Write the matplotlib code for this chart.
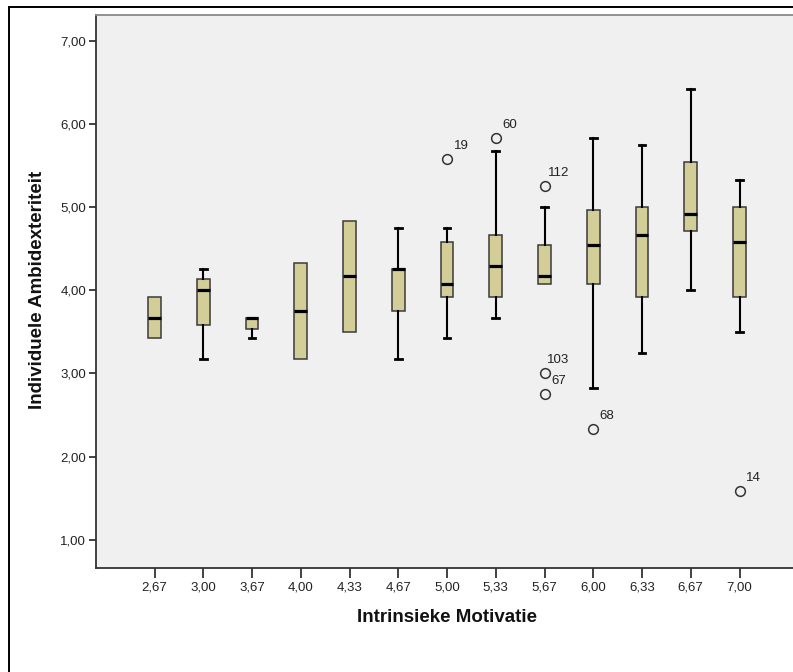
import matplotlib
matplotlib.use("Agg")
import matplotlib.pyplot as plt
from matplotlib.patches import Rectangle

plt.rcParams['font.family'] = ['Liberation Sans', 'DejaVu Sans']

# box statistics
labels = ['2,67', '3,00', '3,67', '4,00', '4,33', '4,67', '5,00',
          '5,33', '5,67', '6,00', '6,33', '6,67', '7,00']
whislo = [3.42, 3.17, 3.42, 3.17, 3.50, 3.17, 3.42, 3.67, 4.08, 2.83, 3.25, 4.00, 3.50]
q1 = [3.42, 3.58, 3.54, 3.17, 3.50, 3.75, 3.92, 3.92, 4.08, 4.08, 3.92, 4.71, 3.92]
med = [3.67, 4.00, 3.67, 3.75, 4.17, 4.25, 4.08, 4.29, 4.17, 4.54, 4.67, 4.92, 4.58]
q3 = [3.92, 4.13, 3.67, 4.33, 4.83, 4.25, 4.58, 4.67, 4.54, 4.96, 5.00, 5.54, 5.00]
whishi = [3.92, 4.25, 3.67, 4.33, 4.83, 4.75, 4.75, 5.67, 5.00, 5.83, 5.75, 6.42, 5.33]

# outliers: category label -> list of (value, case number)
outliers = {
    '5,00': [(5.58, '19')],
    '5,33': [(5.83, '60')],
    '5,67': [(5.25, '112'), (3.00, '103'), (2.75, '67')],
    '6,00': [(2.33, '68')],
    '7,00': [(1.58, '14')],
}

yticks = [1, 2, 3, 4, 5, 6, 7]
ytick_labels = ['1,00', '2,00', '3,00', '4,00', '5,00', '6,00', '7,00']

stats = []
for i, lab in enumerate(labels):
    stats.append({
        'label': lab,
        'whislo': whislo[i], 'q1': q1[i], 'med': med[i],
        'q3': q3[i], 'whishi': whishi[i],
        'fliers': [v for v, _ in outliers.get(lab, [])],
    })

W, H = 793, 672
fig = plt.figure(figsize=(W / 100, H / 100), dpi=100)
fig.patch.set_facecolor('white')

# plot area (right edge runs slightly off the picture)
ax = fig.add_axes([96 / W, 1 - 568 / H, 702 / W, 553 / H])
ax.set_facecolor('#f0f0f0')

positions = list(range(1, len(labels) + 1))
bp = ax.bxp(stats, positions=positions, widths=0.26, capwidths=0.14,
            patch_artist=True, manage_ticks=False,
            boxprops=dict(facecolor='#d3ce97', edgecolor='#3a3a3a', linewidth=1.1),
            medianprops=dict(color='black', linewidth=2.3),
            whiskerprops=dict(color='black', linewidth=1.5),
            capprops=dict(color='black', linewidth=2.0),
            flierprops=dict(marker='o', markersize=7, markerfacecolor='none',
                            markeredgecolor='#333333', markeredgewidth=1.1))

# zero-length whiskers: SPSS shows no cap, just the box edge
for i in range(len(labels)):
    if whislo[i] == q1[i]:
        bp['caps'][2 * i].set_visible(False)
    if whishi[i] == q3[i]:
        bp['caps'][2 * i + 1].set_visible(False)

for lab, pts in outliers.items():
    x = labels.index(lab) + 1
    for v, case in pts:
        ax.annotate(case, (x, v), xytext=(14, 13), textcoords='offset pixels',
                    ha='center', va='center', fontsize=9.5, color='#222222')

ax.set_xlim(-0.2, 14.2)
ax.set_ylim(0.66, 7.31)
ax.set_xticks(positions)
ax.set_xticklabels(labels)
ax.set_yticks(yticks)
ax.set_yticklabels(ytick_labels)
ax.tick_params(axis='both', labelsize=9.5, colors='#222222', width=1.3)
ax.tick_params(axis='y', length=5, pad=2, color='#333333')
ax.tick_params(axis='x', length=7, pad=3, color='#333333')

for s in ['left', 'bottom']:
    ax.spines[s].set_color('#333333')
    ax.spines[s].set_linewidth(1.3)
ax.spines['top'].set_color('#8a8a8a')
ax.spines['top'].set_linewidth(1.3)
ax.spines['right'].set_visible(False)

fig.text(38 / W, 1 - 290 / H, 'Individuele Ambidexteriteit', rotation=90,
         ha='center', va='center', fontsize=13.5, fontweight='bold', color='#111111')
fig.text(447 / W, 1 - 617 / H, 'Intrinsieke Motivatie',
         ha='center', va='center', fontsize=13.5, fontweight='bold', color='#111111')

# outer chart frame
fig.patches.append(Rectangle((9 / W, -0.1), 1.2, 1.1 - 7 / H,
                             transform=fig.transFigure, fill=False,
                             edgecolor='black', linewidth=1.4))

fig.savefig('out.png', dpi=100)
